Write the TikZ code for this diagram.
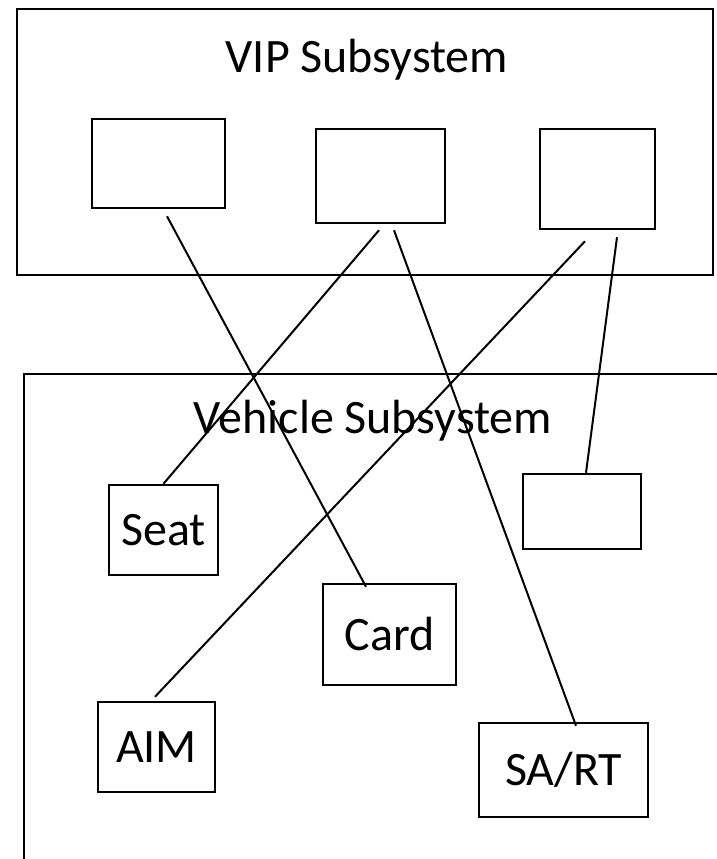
\documentclass[tikz,border=0pt]{standalone}
\usepackage{fontspec}
\setmainfont{Carlito}
\usetikzlibrary{calc}

\begin{document}
\begin{tikzpicture}[x=1pt,y=-1pt,
    frame/.style={draw,line width=2.7pt,inner sep=0pt},
    box/.style={draw,line width=2.5pt,inner sep=0pt,font=\fontsize{48}{58}\selectfont},
    title/.style={anchor=base,inner sep=0pt,font=\fontsize{48}{58}\selectfont},
    wire/.style={line width=2pt}]
  \useasboundingbox (0,0) rectangle (716,859);
  \fill[white] (0,0) rectangle (716,859);
  % VIP subsystem
  \node[frame,minimum width=696pt,minimum height=266pt] (vip) at (365,142) {};
  \node[title] (viptitle) at (367,72) {VIP Subsystem};
  \node[box,minimum width=133pt,minimum height=89pt] (vipA) at (158.5,163.5) {};
  \node[box,minimum width=129pt,minimum height=94pt] (vipB) at (380.5,176) {};
  \node[box,minimum width=115pt,minimum height=100pt] (vipC) at (597.5,179) {};
  %
  % Vehicle subsystem (open to the right and bottom)
  \coordinate (vehBL) at (24,862);
  \coordinate (vehTL) at (24,374);
  \coordinate (vehTR) at (720,374);
  \draw[line width=2.7pt] (vehBL) -- (vehTL) -- (vehTR);
  \node[title] (vehtitle) at (373,433) {Vehicle Subsystem};
  \node[box,minimum width=109pt,minimum height=90pt] (seat) at (163.5,530) {Seat};
  \node[box,minimum width=133pt,minimum height=101pt] (card) at (389.5,634.5) {Card};
  \node[box,minimum width=118pt,minimum height=75pt] (vehC) at (582,511.5) {};
  \node[box,minimum width=117pt,minimum height=90pt] (aim) at (156.5,747) {AIM};
  \node[box,minimum width=169pt,minimum height=94pt] (sart) at (563.5,770) {SA/RT};
  %
  \draw[wire] ($(vipA.south)+(8.5,7)$) -- ($(card.north)+(-23.5,4)$);
  \draw[wire] ($(vipB.south)+(-1.5,6)$) -- (seat.north);
  \draw[wire] ($(vipB.south)+(13.5,6)$) -- ($(sart.north)+(12.5,4)$);
  \draw[wire] ($(vipC.south)+(-12.5,11)$) -- ($(aim.north)+(-1.5,-4)$);
  \draw[wire] ($(vipC.south)+(19.5,7)$) -- ($(vehC.north)+(4,0)$);
\end{tikzpicture}
\end{document}
